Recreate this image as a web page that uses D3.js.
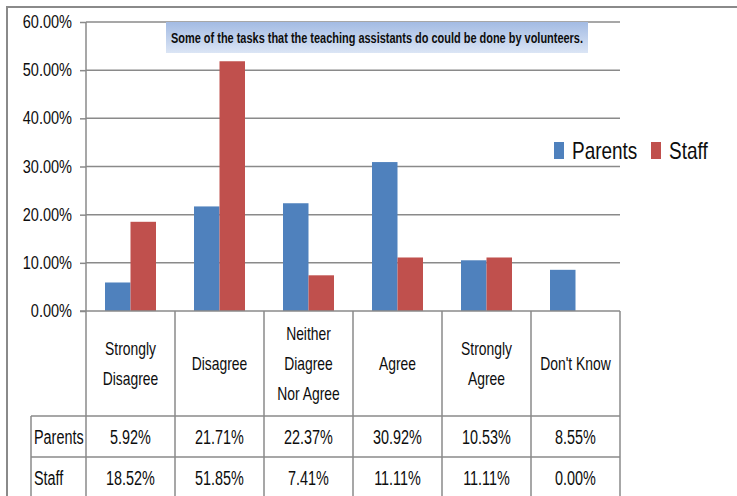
<!DOCTYPE html>
<html lang="en">
<head>
    <meta charset="UTF-8">
    <title>Teaching assistants survey</title>
    <script src="https://d3js.org/d3.v7.min.js"></script>
    <style>
        body { margin: 0; background: #fff; }
        text { font-family: "Liberation Sans", Arial, sans-serif; fill: #0d0d0d; }
    </style>
</head>
<body>
    <div id="chart"></div>
    <script>
        // Data
        const categories = ['Strongly\nDisagree', 'Disagree', 'Neither\nDiagree\nNor Agree', 'Agree', 'Strongly\nAgree', "Don't Know"];
        const seriesNames = ['Parents', 'Staff'];
        const parents = [0.0592, 0.2171, 0.2237, 0.3092, 0.1053, 0.0855];
        const staff = [0.1852, 0.5185, 0.0741, 0.1111, 0.1111, 0.0000];
        const yTicks = [0, 0.1, 0.2, 0.3, 0.4, 0.5, 0.6];
        const title = 'Some of the tasks that the teaching assistants do could be done by volunteers.';

        const colors = { Parents: '#4f81bd', Staff: '#c0504d' };
        const values = { Parents: parents, Staff: staff };
        const gridColor = '#8a8a8a';

        const width = 737, height = 496;
        const plot = { left: 86, right: 620, top: 22, bottom: 311 };
        const tableRows = [416, 457, 498];

        const svg = d3.select('#chart')
            .append('svg')
            .attr('width', width)
            .attr('height', height);

        // squeeze text horizontally, the source uses a tall narrow font
        function narrow(sel, k) {
            sel.each(function () {
                const w = this.getComputedTextLength();
                d3.select(this)
                    .attr('textLength', w * k)
                    .attr('lengthAdjust', 'spacingAndGlyphs');
            });
        }

        // outer frame (top and left edges visible)
        svg.append('path')
            .attr('d', `M7,${height} V7 H${width}`)
            .attr('fill', 'none')
            .attr('stroke', gridColor)
            .attr('stroke-width', 2);

        const x = d3.scaleBand()
            .domain(d3.range(categories.length))
            .range([plot.left, plot.right]);

        const xInner = d3.scaleBand()
            .domain(seriesNames)
            .range([0, x.bandwidth()])
            .paddingOuter(0.745);

        const y = d3.scaleLinear()
            .domain([0, 0.6])
            .range([plot.bottom, plot.top]);

        // gridlines
        svg.selectAll('.grid')
            .data(yTicks.slice(1))
            .enter()
            .append('line')
            .attr('x1', plot.left)
            .attr('x2', plot.right)
            .attr('y1', d => y(d))
            .attr('y2', d => y(d))
            .attr('stroke', gridColor)
            .attr('stroke-width', 1.5);

        // y axis
        const yAxis = d3.axisLeft(y)
            .tickValues(yTicks)
            .tickFormat(d3.format('.2%'))
            .tickSize(6)
            .tickPadding(8);

        const yg = svg.append('g')
            .attr('transform', `translate(${plot.left},0)`)
            .call(yAxis);
        yg.select('.domain').remove();
        yg.selectAll('.tick line').attr('stroke', gridColor).attr('stroke-width', 1.5);
        yg.selectAll('.tick text')
            .attr('font-size', 17.5)
            .attr('font-family', null)
            .attr('fill', '#0d0d0d')
            .call(narrow, 0.83);

        svg.append('line')
            .attr('x1', plot.left).attr('x2', plot.left)
            .attr('y1', plot.top).attr('y2', height)
            .attr('stroke', gridColor).attr('stroke-width', 1.5);

        // title box
        const grad = svg.append('defs').append('linearGradient')
            .attr('id', 'titleGrad')
            .attr('x1', 0).attr('y1', 0).attr('x2', 0).attr('y2', 1);
        grad.append('stop').attr('offset', '0%').attr('stop-color', '#a3bbe3');
        grad.append('stop').attr('offset', '100%').attr('stop-color', '#dbe5f5');

        svg.append('rect')
            .attr('x', 166).attr('y', 22)
            .attr('width', 422).attr('height', 31)
            .attr('fill', 'url(#titleGrad)');

        svg.append('text')
            .attr('x', 377).attr('y', 43)
            .attr('text-anchor', 'middle')
            .attr('font-size', 15)
            .attr('font-weight', 'bold')
            .attr('textLength', 412)
            .attr('lengthAdjust', 'spacingAndGlyphs')
            .text(title);

        // bars
        const groups = svg.selectAll('.group')
            .data(categories)
            .enter()
            .append('g')
            .attr('transform', (d, i) => `translate(${x(i)},0)`);

        groups.selectAll('rect')
            .data((d, i) => seriesNames.map(s => ({ s, v: values[s][i] })))
            .enter()
            .append('rect')
            .attr('x', d => xInner(d.s))
            .attr('y', d => y(d.v))
            .attr('width', xInner.bandwidth())
            .attr('height', d => plot.bottom - y(d.v))
            .attr('fill', d => colors[d.s]);

        // x axis line
        svg.append('line')
            .attr('x1', plot.left - 6).attr('x2', plot.right)
            .attr('y1', plot.bottom).attr('y2', plot.bottom)
            .attr('stroke', gridColor).attr('stroke-width', 1.5);

        // data table lines
        svg.selectAll('.vline')
            .data(d3.range(1, categories.length + 1))
            .enter()
            .append('line')
            .attr('x1', i => x(0) + i * x.step())
            .attr('x2', i => x(0) + i * x.step())
            .attr('y1', plot.bottom)
            .attr('y2', height)
            .attr('stroke', gridColor).attr('stroke-width', 1.5);

        svg.selectAll('.hline')
            .data(tableRows.slice(0, 2))
            .enter()
            .append('line')
            .attr('x1', 31).attr('x2', plot.right)
            .attr('y1', d => d).attr('y2', d => d)
            .attr('stroke', gridColor).attr('stroke-width', 1.5);

        svg.append('line')
            .attr('x1', 31).attr('x2', 31)
            .attr('y1', tableRows[0]).attr('y2', height)
            .attr('stroke', gridColor).attr('stroke-width', 1.5);

        // category labels, one text per line
        const lineH = 30;
        const catMid = (plot.bottom + tableRows[0]) / 2;
        groups.each(function (d) {
            const lines = d.split('\n');
            const g = d3.select(this);
            lines.forEach((ln, k) => {
                g.append('text')
                    .attr('text-anchor', 'middle')
                    .attr('font-size', 18.5)
                    .attr('x', x.bandwidth() / 2)
                    .attr('y', catMid + (k - (lines.length - 1) / 2) * lineH)
                    .attr('dy', '0.35em')
                    .text(ln)
                    .call(narrow, 0.75);
            });
        });

        // table values
        const fmt = d3.format('.2%');
        seriesNames.forEach((s, r) => {
            const cy = (tableRows[r] + tableRows[r + 1]) / 2;
            svg.append('text')
                .attr('x', 34).attr('y', cy).attr('dy', '0.35em')
                .attr('font-size', 20)
                .text(s)
                .call(narrow, 0.72);
            svg.selectAll('.val-' + s)
                .data(values[s])
                .enter()
                .append('text')
                .attr('x', (d, i) => x(i) + x.bandwidth() / 2)
                .attr('y', cy)
                .attr('dy', '0.35em')
                .attr('text-anchor', 'middle')
                .attr('font-size', 20)
                .text(d => fmt(d))
                .call(narrow, 0.72);
        });

        // legend
        const legend = svg.append('g').attr('transform', 'translate(554,142)');
        const legendX = [0, 97];
        seriesNames.forEach((s, i) => {
            legend.append('rect')
                .attr('x', legendX[i]).attr('y', 0)
                .attr('width', 10).attr('height', 17)
                .attr('fill', colors[s]);
            legend.append('text')
                .attr('x', legendX[i] + 18).attr('y', 17)
                .attr('font-size', 24)
                .text(s)
                .call(narrow, 0.79);
        });
    </script>
</body>
</html>
